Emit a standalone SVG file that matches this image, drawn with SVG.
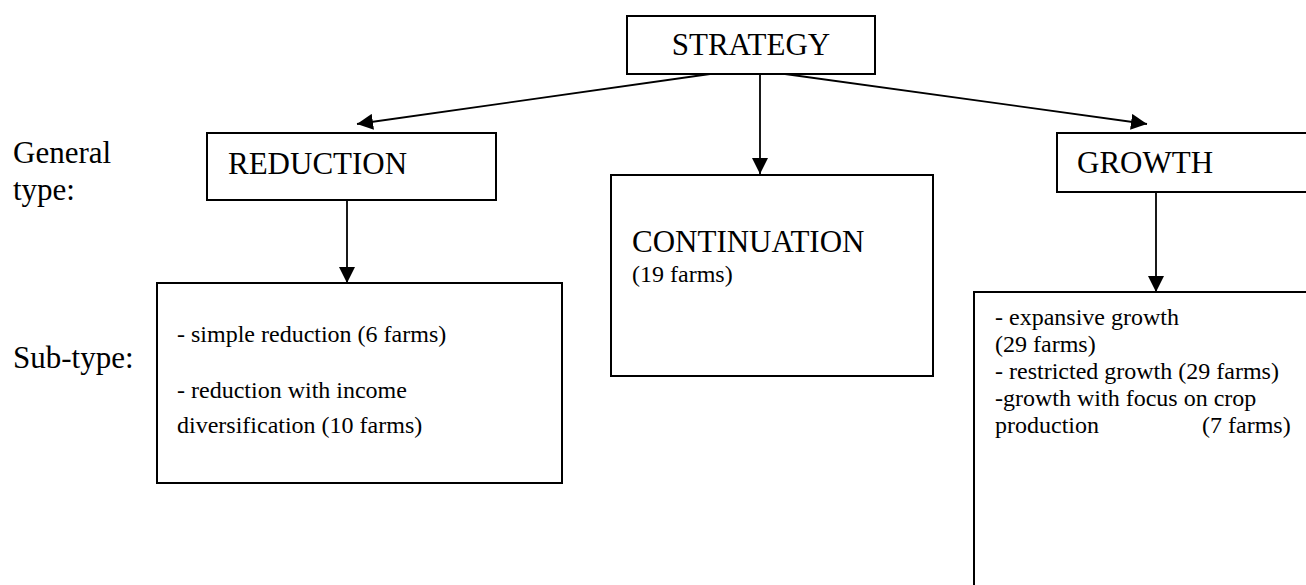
<svg xmlns="http://www.w3.org/2000/svg" width="1306" height="585" viewBox="0 0 1306 585">
<style>
.box{fill:#fff;stroke:#000;stroke-width:2}
.conn{stroke:#000;stroke-width:1.8;fill:none}
text{font-family:'Liberation Serif','Times New Roman','DejaVu Serif',serif;fill:#000}
.big{font-size:31px}
.sm{font-size:24px}
</style>
<defs>
<marker id="ah" markerUnits="userSpaceOnUse" markerWidth="16" markerHeight="16" viewBox="0 0 16 16" refX="16" refY="8" orient="auto">
<path d="M0,0 L16,8 L0,16 Z" fill="#000"/>
</marker>
</defs>
<rect width="1306" height="585" fill="#fff"/>
<g id="labels">
<text class="big" x="13" y="163">General</text>
<text class="big" x="13" y="200">type:</text>
<text class="big" x="13" y="368">Sub-type:</text>
</g>
<g id="connectors">
<line class="conn" x1="710" y1="74" x2="357" y2="124" marker-end="url(#ah)"/>
<line class="conn" x1="760" y1="74" x2="760" y2="174" marker-end="url(#ah)"/>
<line class="conn" x1="785" y1="74" x2="1147" y2="124" marker-end="url(#ah)"/>
<line class="conn" x1="347" y1="200" x2="347" y2="283" marker-end="url(#ah)"/>
<line class="conn" x1="1156" y1="192" x2="1156" y2="292" marker-end="url(#ah)"/>
</g>
<g id="strategy">
<rect class="box" x="627" y="16" width="248" height="58"/>
<text class="big" x="751" y="55" text-anchor="middle">STRATEGY</text>
</g>
<g id="reduction">
<rect class="box" x="207" y="133" width="289" height="67"/>
<text class="big" x="228" y="174">REDUCTION</text>
</g>
<g id="continuation">
<rect class="box" x="611" y="175" width="322" height="201"/>
<text class="big" x="632" y="252">CONTINUATION</text>
<text class="sm" x="632" y="282">(19 farms)</text>
</g>
<g id="growth">
<rect class="box" x="1057" y="133" width="250" height="59"/>
<text class="big" x="1077" y="173">GROWTH</text>
</g>
<g id="reduction-sub">
<rect class="box" x="157" y="283" width="405" height="200"/>
<text class="sm" x="177" y="342">- simple reduction (6 farms)</text>
<text class="sm" x="177" y="398">- reduction with income</text>
<text class="sm" x="177" y="433">diversification (10 farms)</text>
</g>
<g id="growth-sub">
<rect class="box" x="974" y="292" width="340" height="300"/>
<text class="sm" x="995" y="325">- expansive growth</text>
<text class="sm" x="995" y="352">(29 farms)</text>
<text class="sm" x="995" y="379">- restricted growth (29 farms)</text>
<text class="sm" x="995" y="406">-growth with focus on crop</text>
<text class="sm" x="995" y="433">production</text>
<text class="sm" x="1202" y="433">(7 farms)</text>
</g>
</svg>
